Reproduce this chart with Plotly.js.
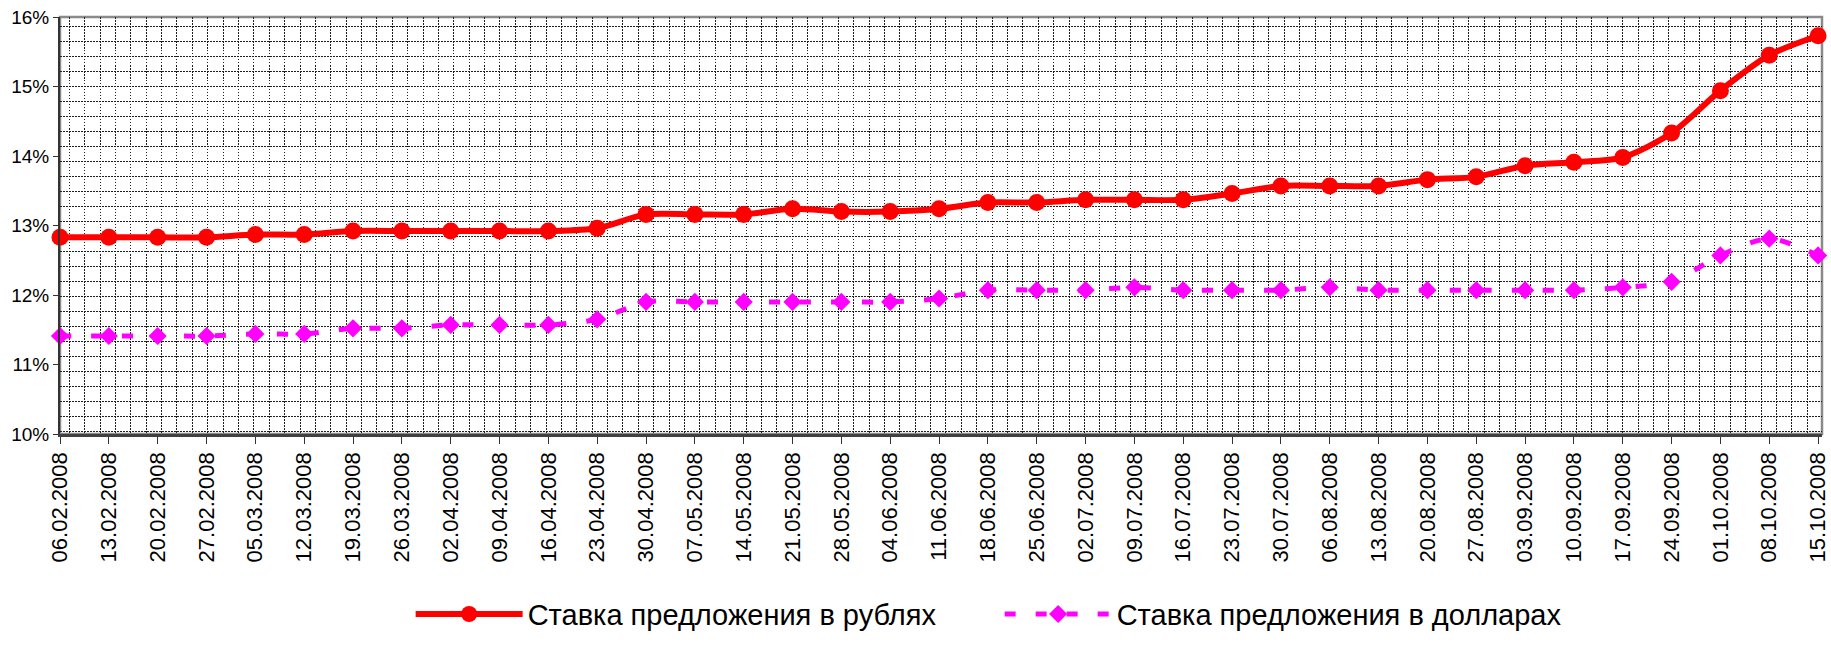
<!DOCTYPE html>
<html>
<head>
<meta charset="utf-8">
<script src="https://cdn.plot.ly/plotly-3.0.1.min.js"></script>
<style>
html,body{margin:0;padding:0;background:#fff;}
#chart{width:1831px;height:649px;}
</style>
</head>
<body>
<div id="chart"></div>
<script>
const dates = ['06.02.2008','13.02.2008','20.02.2008','27.02.2008','05.03.2008','12.03.2008','19.03.2008','26.03.2008','02.04.2008','09.04.2008','16.04.2008','23.04.2008','30.04.2008','07.05.2008','14.05.2008','21.05.2008','28.05.2008','04.06.2008','11.06.2008','18.06.2008','25.06.2008','02.07.2008','09.07.2008','16.07.2008','23.07.2008','30.07.2008','06.08.2008','13.08.2008','20.08.2008','27.08.2008','03.09.2008','10.09.2008','17.09.2008','24.09.2008','01.10.2008','08.10.2008','15.10.2008'];

const rubRate = [12.83,12.83,12.83,12.83,12.87,12.87,12.92,12.92,12.92,12.92,12.92,12.96,13.16,13.16,13.16,13.24,13.20,13.20,13.24,13.33,13.33,13.37,13.37,13.37,13.46,13.57,13.57,13.57,13.66,13.70,13.86,13.91,13.98,14.33,14.94,15.45,15.73];

const usdRate = [11.41,11.41,11.41,11.41,11.44,11.44,11.52,11.52,11.57,11.57,11.57,11.65,11.90,11.90,11.90,11.90,11.90,11.90,11.95,12.07,12.07,12.07,12.11,12.07,12.07,12.07,12.11,12.07,12.07,12.07,12.07,12.07,12.11,12.19,12.57,12.81,12.57];

const seriesNames = ['Ставка предложения в рублях', 'Ставка предложения в долларах'];

const FONT = 'Liberation Sans, Arial, sans-serif';

const traces = [
  // empty helper trace: only registers the overlay axes that carry the dotted background grid
  {
    type: 'scatter', x: [], y: [], xaxis: 'x2', yaxis: 'y2',
    showlegend: false, hoverinfo: 'skip', mode: 'markers'
  },
  {
    x: dates, y: rubRate, type: 'scatter', mode: 'lines+markers',
    name: seriesNames[0],
    line: {color: '#ff0000', width: 6, shape: 'spline', smoothing: 0.8},
    marker: {symbol: 'circle', size: 17, color: '#ff0000'},
    cliponaxis: false
  },
  {
    x: dates, y: usdRate, type: 'scatter', mode: 'lines+markers',
    name: seriesNames[1],
    line: {color: '#ff00ff', width: 5, dash: '11px,20px', shape: 'spline', smoothing: 0.8},
    marker: {symbol: 'diamond', size: 14, color: '#ff00ff'},
    cliponaxis: false
  }
];

const layout = {
  width: 1831, height: 649,
  margin: {l: 60, r: 9, t: 17, b: 204},
  paper_bgcolor: '#ffffff', plot_bgcolor: '#ffffff',
  font: {family: FONT, color: '#000000'},
  showlegend: true,
  hovermode: false,
  xaxis: {
    type: 'category', range: [0, 36.08],
    tickangle: -90, ticks: 'outside', ticklen: 7, tickcolor: '#333', tickwidth: 1,
    showline: true, linecolor: '#404040', linewidth: 2.5,
    showgrid: false, zeroline: false,
    tickfont: {size: 22, family: FONT, color: '#000'},
    automargin: false
  },
  yaxis: {
    range: [10, 16], dtick: 1, ticksuffix: '%',
    ticks: 'outside', ticklen: 5, tickcolor: '#333', tickwidth: 1,
    showline: true, linecolor: '#333', linewidth: 2,
    showgrid: false, zeroline: false,
    tickfont: {size: 19, family: FONT, color: '#000'},
    automargin: false
  },
  xaxis2: {
    overlaying: 'x', anchor: 'y2', range: [60, 1822],
    tick0: 69.3, dtick: 15.38,
    showgrid: true, gridcolor: '#1e1e1e', gridwidth: 1, griddash: '1.5px,1.5px',
    showticklabels: false, ticks: '', zeroline: false, showline: false
  },
  yaxis2: {
    overlaying: 'y', anchor: 'x2', range: [445, 17],
    tick0: 26.7, dtick: 15.4,
    showgrid: true, gridcolor: '#1e1e1e', gridwidth: 1, griddash: '1.5px,1.5px',
    showticklabels: false, ticks: '', zeroline: false, showline: false
  },
  legend: {
    orientation: 'h', x: 0.199, xanchor: 'left', y: -0.432, yanchor: 'middle',
    font: {size: 29, family: FONT, color: '#000'},
    itemwidth: 107, entrywidth: 467, bgcolor: 'rgba(0,0,0,0)'
  },
  shapes: [
    {type: 'rect', xref: 'paper', yref: 'paper', x0: 0, x1: 1, y0: 0, y1: 1,
     line: {color: '#8a8a8a', width: 2.5}, layer: 'between'}
  ]
};

Plotly.newPlot('chart', traces, layout, {displayModeBar: false, staticPlot: true});
</script>
</body>
</html>
